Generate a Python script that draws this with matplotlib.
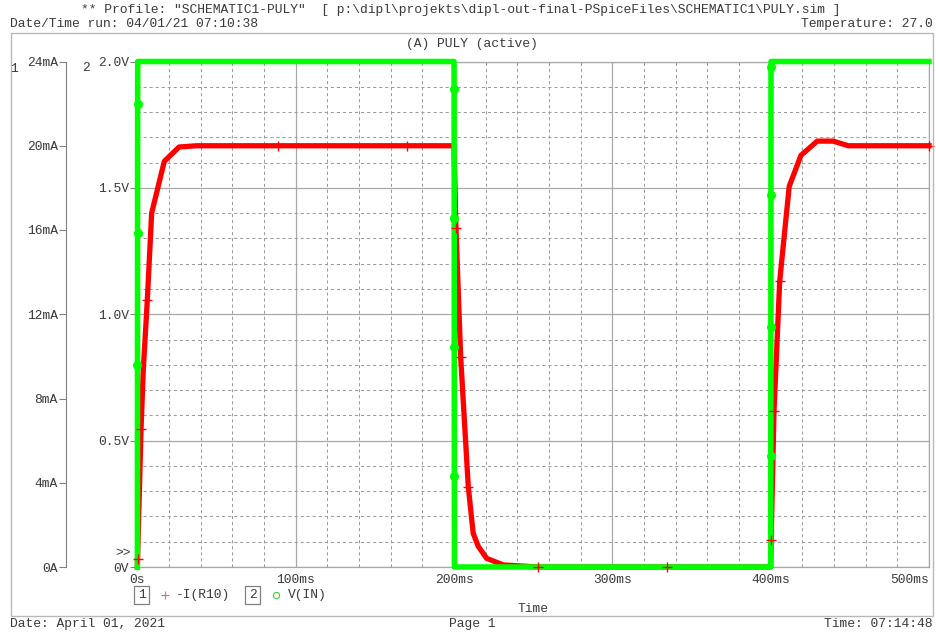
import numpy as np
import matplotlib
matplotlib.use('Agg')
import matplotlib.pyplot as plt
from matplotlib.lines import Line2D
from matplotlib.patches import Rectangle

# V(IN) samples: time in ms, volts
v_time = [0.0, 0.05, 0.1, 0.15, 0.2, 200.0, 200.05, 200.1, 200.15, 200.2, 200.25,
          400.0, 400.05, 400.1, 400.15, 400.2, 400.25, 500.0]
v_in = [0.0, 0.80, 1.32, 1.83, 2.0, 2.0, 1.89, 1.38, 0.87, 0.36, 0.0,
        0.0, 0.44, 0.95, 1.47, 1.98, 2.0, 2.0]
v_marks = [1, 2, 3, 6, 7, 8, 9, 12, 13, 14, 15]

# -I(R10) samples: time in ms, mA
i_time = [0.0, 0.1, 2.3, 3.7, 6.25, 9.0, 17.0, 26.3, 37.4, 88.8, 170.3,
          200.0, 201.2, 204.2, 209.0, 212.1, 215.3, 220.6, 231.0, 253.0, 334.8,
          400.0, 400.3, 402.1, 405.7, 411.7, 419.1, 429.4, 439.5, 449.0, 500.0]
i_r10 = [0.0, 0.38, 6.55, 9.34, 12.66, 16.8, 19.26, 19.94, 20.0, 20.0, 20.0,
         20.0, 16.1, 9.95, 3.81, 1.6, 0.98, 0.41, 0.1, 0.0, 0.0,
         0.0, 1.28, 7.4, 13.57, 18.07, 19.54, 20.22, 20.22, 20.0, 20.0]
i_marks = [1, 2, 4, 9, 10, 12, 13, 14, 19, 20, 22, 23, 24, 30]

x_ticks = [0, 100, 200, 300, 400, 500]
x_labels = ['0s', '100ms', '200ms', '300ms', '400ms', '500ms']
v_ticks = [0.0, 0.5, 1.0, 1.5, 2.0]
v_labels = ['0V', '0.5V', '1.0V', '1.5V', '2.0V']
i_ticks = [0, 4, 8, 12, 16, 20, 24]
i_labels = ['0A', '4mA', '8mA', '12mA', '16mA', '20mA', '24mA']

FONT = 'Liberation Mono'
FS = 9.4
TXT = '#3a3a3a'
GRID = '#a8a8a8'
FRAME = '#b8b8b8'
RED = '#ff0000'
GREEN = '#00ff00'

plt.rcParams['font.family'] = FONT
plt.rcParams['font.size'] = FS

W, H = 936, 635
fig = plt.figure(figsize=(W / 100, H / 100), dpi=100)


def fx(px):
    return px / W


def fy(py):
    return 1 - py / H


# outer page frame
fig.add_artist(Rectangle((fx(10.5), fy(616)), fx(933) - fx(10.5), fy(33) - fy(616),
                         transform=fig.transFigure, fill=False, ec=FRAME, lw=1.0))

x0, x1, y0, y1 = 137.4, 929, 567, 61.5
ax_v = fig.add_axes([fx(x0), fy(y0), fx(x1) - fx(x0), fy(y1) - fy(y0)])
ax_i = ax_v.twinx()

ax_v.set_xlim(0, 500)
ax_v.set_ylim(0, 2.0)
ax_i.set_ylim(0, 24)

# grid: solid every 100ms / 0.5V, dashed every 20ms / 0.1V
ax_v.set_xticks(x_ticks)
ax_v.set_xticklabels(x_labels)
ax_v.set_xticks(np.arange(0, 501, 20), minor=True)
ax_v.set_yticks(v_ticks)
ax_v.set_yticklabels(v_labels)
ax_v.set_yticks(np.arange(0, 2.01, 0.1), minor=True)
ax_v.grid(which='major', color=GRID, lw=0.9, ls='-')
ax_v.grid(which='minor', color='#9c9c9c', lw=0.75, ls=(0, (3.0, 2.8)))
ax_v.set_axisbelow(True)

for s in ax_v.spines.values():
    s.set_color(GRID)
    s.set_linewidth(0.9)
ax_v.tick_params(axis='y', which='major', direction='out', length=5, width=0.8,
                 color='#808080', labelcolor=TXT, labelsize=FS, pad=1)
ax_v.tick_params(axis='x', which='major', length=0, labelcolor=TXT, labelsize=FS, pad=5)
ax_v.tick_params(which='minor', length=0)
ax_v.get_xticklabels()[-1].set_ha('right')

# current axis sits further left
ax_i.yaxis.tick_left()
ax_i.spines['left'].set_visible(True)
ax_i.spines['left'].set_position(('axes', (66 - x0) / (x1 - x0)))
ax_i.spines['left'].set_color('#808080')
ax_i.spines['left'].set_linewidth(0.8)
for name in ['right', 'top', 'bottom']:
    ax_i.spines[name].set_visible(False)
ax_i.set_yticks(i_ticks)
ax_i.set_yticklabels(i_labels)
ax_i.tick_params(axis='y', direction='out', length=5, width=0.8, color='#808080',
                 labelcolor=TXT, labelsize=FS, pad=1)

# traces
ax_v.plot(i_time, i_r10, color=RED, lw=3.8, transform=ax_i.transData,
          clip_on=False, zorder=3)
ax_v.plot(v_time, v_in, color=GREEN, lw=4.0, clip_on=False, zorder=4)
ax_v.plot([v_time[k] for k in v_marks], [v_in[k] for k in v_marks], 'o',
          color=GREEN, ms=5.5, clip_on=False, zorder=5)
ax_v.plot([i_time[k] for k in i_marks], [i_r10[k] for k in i_marks], '+',
          color=RED, ms=7, mew=1.0, transform=ax_i.transData, clip_on=False, zorder=6)
ax_v.set_xlim(0, 500)
ax_v.set_ylim(0, 2.0)

# header / footer
fig.text(fx(81), fy(10), '** Profile: "SCHEMATIC1-PULY"  '
         r'[ p:\dipl\projekts\dipl-out-final-PSpiceFiles\SCHEMATIC1\PULY.sim ]',
         color=TXT, va='center', ha='left')
fig.text(fx(10), fy(24), 'Date/Time run: 04/01/21 07:10:38', color=TXT, va='center')
fig.text(fx(933), fy(24), 'Temperature: 27.0', color=TXT, va='center', ha='right')
fig.text(fx(472), fy(44), '(A) PULY (active)', color=TXT, va='center', ha='center')
fig.text(fx(14), fy(69), '1', color=TXT, va='center', ha='center')
fig.text(fx(86), fy(68), '2', color=TXT, va='center', ha='center')
fig.text(fx(131), fy(553), '>>', color=TXT, va='center', ha='right')

fig.text(fx(10), fy(624), 'Date: April 01, 2021', color=TXT, va='center')
fig.text(fx(472), fy(624), 'Page 1', color=TXT, va='center', ha='center')
fig.text(fx(933), fy(624), 'Time: 07:14:48', color=TXT, va='center', ha='right')
fig.text(fx(533), fy(609), 'Time', color=TXT, va='center', ha='center')

# trace legend
box = dict(boxstyle='square,pad=0.25', fc='none', ec='#808080', lw=0.9)
fig.text(fx(141.5), fy(595), '1', color=TXT, va='center', ha='center', bbox=box)
fig.add_artist(Line2D([fx(165)], [fy(595)], marker='+', color='#ff6060', ms=6,
                      mew=0.8, transform=fig.transFigure))
fig.text(fx(176), fy(595), '-I(R10)', color=TXT, va='center')
fig.text(fx(252.5), fy(595), '2', color=TXT, va='center', ha='center', bbox=box)
fig.add_artist(Line2D([fx(276)], [fy(595)], marker='o', color='#40d040', ms=4.5,
                      mew=0.8, mfc='none', transform=fig.transFigure))
fig.text(fx(288), fy(595), 'V(IN)', color=TXT, va='center')

fig.savefig('out.png', dpi=100)
